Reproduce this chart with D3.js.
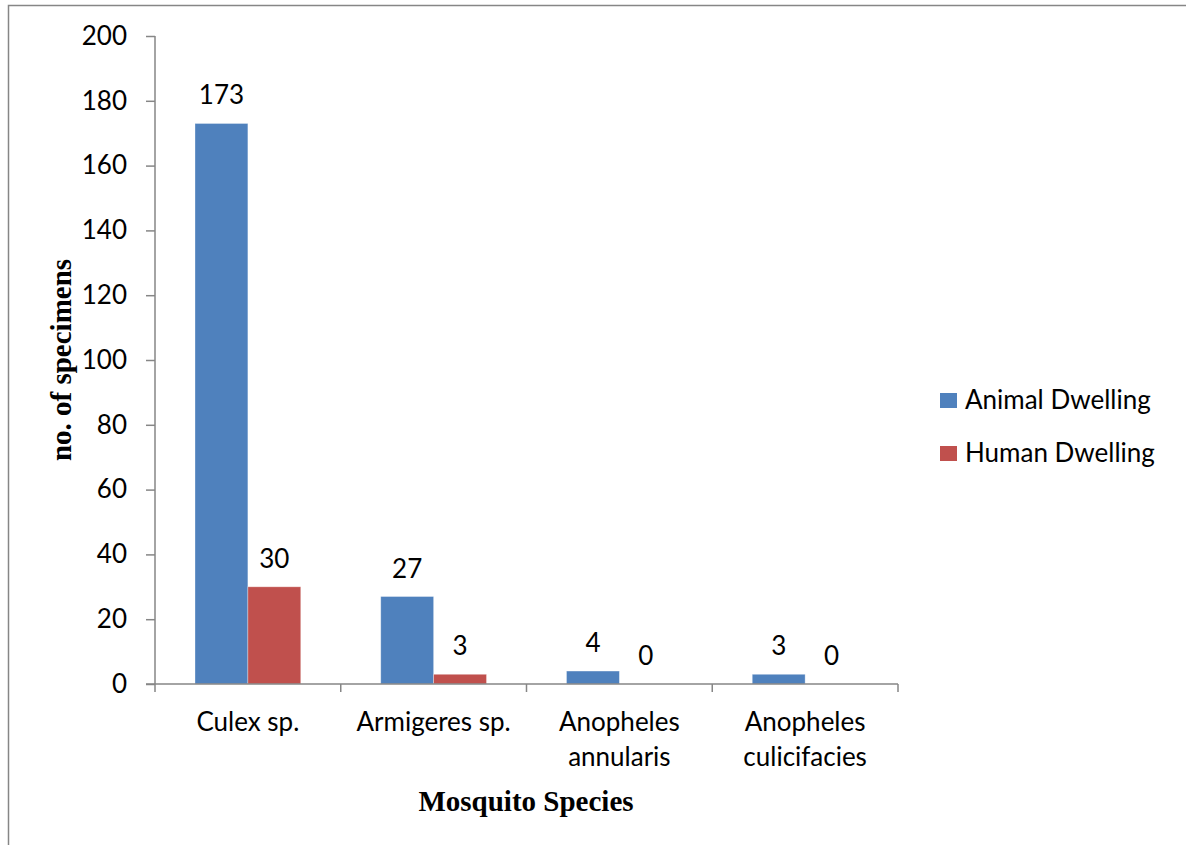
<!DOCTYPE html>
<html><head><meta charset="utf-8">
<script src="https://cdn.jsdelivr.net/npm/d3@7"></script>
<style>body{margin:0;background:#fff}svg{display:block}</style>
</head><body>
<script>
const categories = [["Culex sp."],["Armigeres sp."],["Anopheles","annularis"],["Anopheles","culicifacies"]];
const seriesNames = ["Animal Dwelling","Human Dwelling"];
const animal = [173, 27, 4, 3];
const human = [30, 3, 0, 0];
const yTicks = [0,20,40,60,80,100,120,140,160,180,200];
const colors = ["#4F81BD","#C0504D"];

const W=1186,H=845;
const svg=d3.select("body").append("svg").attr("width",W).attr("height",H);
const font="Lato, 'Open Sans', sans-serif";
const fs=26;
// outer border (left and top)
svg.append("path").attr("d",`M8.5,${H} L8.5,5.5 L${W},5.5`).attr("fill","none").attr("stroke","#868686").attr("stroke-width",1.5);

const x0=155,x1=898,y0=684,y1=36;
const x=d3.scaleBand().domain(d3.range(categories.length)).range([x0,x1]).paddingInner(0).paddingOuter(0);
const inner=d3.scaleBand().domain([0,1]).range([40,x.bandwidth()-40]);
const y=d3.scaleLinear().domain([0,200]).range([y0,y1]);

const data=categories.map((c,i)=>({i,vals:[animal[i],human[i]]}));
const g=svg.append("g");
data.forEach(d=>{
  d.vals.forEach((v,s)=>{
    const bx=x(d.i)+inner(s);
    g.append("rect").attr("x",bx).attr("y",y(v)).attr("width",inner.bandwidth()).attr("height",y0-y(v))
      .attr("fill",colors[s]).attr("stroke","#fff").attr("stroke-opacity",0.4).attr("stroke-width",v>0?0.8:0);
    g.append("text").attr("x",bx+inner.bandwidth()/2).attr("y",y(v)-19)
      .attr("text-anchor","middle").attr("font-family",font).attr("font-size",fs).attr("fill","#000").text(v);
  });
});

// y axis
const ya=svg.append("g").attr("transform",`translate(${x0},0)`).call(d3.axisLeft(y).tickValues(yTicks).tickSize(9).tickPadding(19));
ya.select(".domain").attr("stroke","#868686").attr("stroke-width",1.5).attr("d",`M-0,${y1}V${y0}`);
ya.selectAll(".tick line").attr("stroke","#868686").attr("stroke-width",1.5);
ya.selectAll(".tick text").attr("font-family",font).attr("font-size",fs).attr("fill","#000");

// x axis
const xa=svg.append("g").attr("transform",`translate(0,${y0})`);
xa.append("line").attr("x1",x0-9).attr("x2",x1).attr("y1",0).attr("y2",0).attr("stroke","#868686").attr("stroke-width",1.5);
const edges=x.domain().map(i=>x(i)).concat([x1]);
edges.forEach(e=>xa.append("line").attr("x1",e).attr("x2",e).attr("y1",0).attr("y2",8).attr("stroke","#868686").attr("stroke-width",1.5));
categories.forEach((c,i)=>{
  const t=xa.append("text").attr("text-anchor","middle").attr("font-family",font).attr("font-size",fs).attr("fill","#000");
  c.forEach((line,k)=>t.append("tspan").attr("x",x(i)+x.bandwidth()/2).attr("y",47+k*35).text(line));
});

// titles
const serif="'Liberation Serif','Times New Roman',serif";
svg.append("text").attr("x",526).attr("y",811).attr("text-anchor","middle").attr("font-family",serif)
  .attr("font-weight","bold").attr("font-size",29).text("Mosquito Species");
svg.append("text").attr("transform","translate(71,360) rotate(-90)").attr("text-anchor","middle").attr("font-family",serif)
  .attr("font-weight","bold").attr("font-size",29).text("no. of specimens");

// legend
seriesNames.forEach((n,s)=>{
  const ly=393+s*53;
  svg.append("rect").attr("x",940).attr("y",ly).attr("width",17).attr("height",15).attr("fill",colors[s]);
  svg.append("text").attr("x",965).attr("y",ly+16).attr("font-family",font).attr("font-size",fs).attr("fill","#000").text(n);
});
</script>
</body></html>
